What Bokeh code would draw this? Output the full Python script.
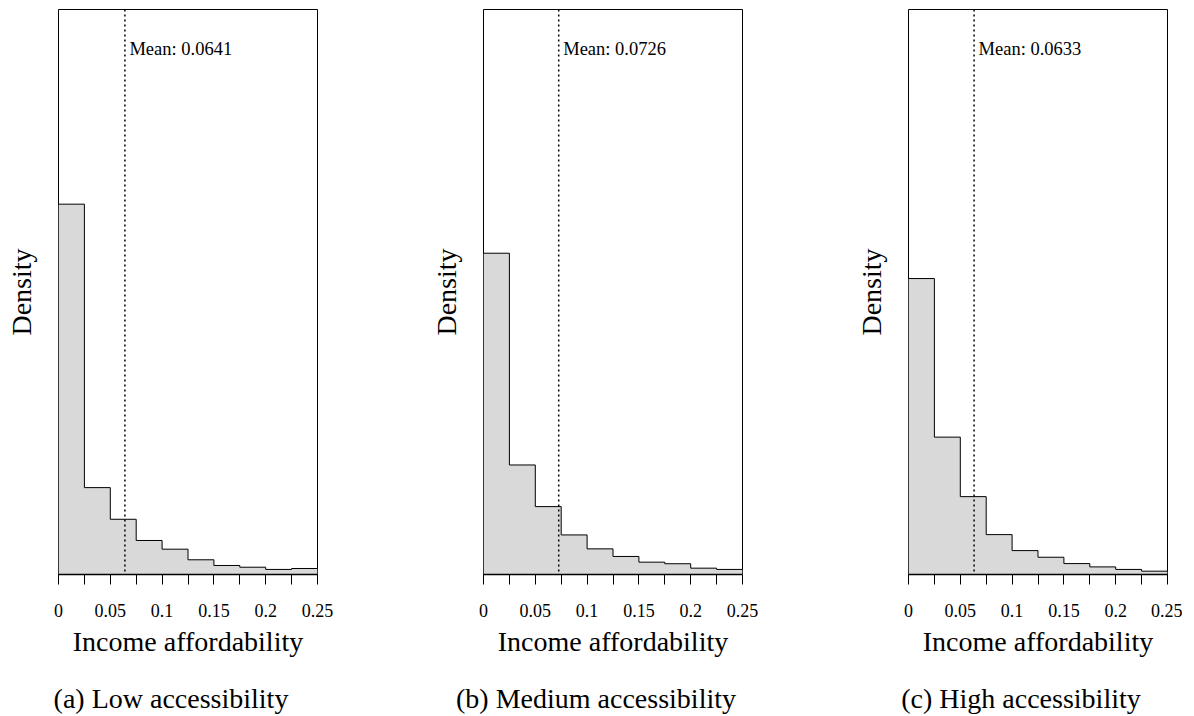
from bokeh.plotting import figure
from bokeh.layouts import row
from bokeh.models import Range1d, FixedTicker, Span, Label, LinearAxis
from bokeh.embed import file_html
from bokeh.resources import INLINE

# ---- data ----
bin_edges = [0.0, 0.025, 0.05, 0.075, 0.1, 0.125, 0.15, 0.175, 0.2, 0.225, 0.25]
low_density = [23.4, 5.49, 3.49, 2.15, 1.60, 0.93, 0.57, 0.46, 0.32, 0.38]
medium_density = [20.3, 6.92, 4.29, 2.50, 1.62, 1.14, 0.78, 0.68, 0.40, 0.32]
high_density = [18.7, 8.68, 4.92, 2.52, 1.51, 1.09, 0.69, 0.48, 0.32, 0.21]
means = [0.0641, 0.0726, 0.0633]
captions = ["(a) Low accessibility", "(b) Medium accessibility", "(c) High accessibility"]
major_ticks = [0, 0.05, 0.1, 0.15, 0.2, 0.25]
tick_labels = ["0", "0.05", "0.1", "0.15", "0.2", "0.25"]
minor_ticks = [0.025, 0.075, 0.125, 0.175, 0.225]
x_label = "Income affordability"
y_label = "Density"
Y_MAX = 35.7

SERIF = "Liberation Serif"
FIG_H = 716
FRAME_H = 565
FRAME_W = 259
TOP = 9


def make_panel(density, mean, caption, left_border, right_border):
    width = left_border + FRAME_W + right_border
    x0, x1 = bin_edges[0], bin_edges[-1]
    p = figure(width=width, height=FIG_H, output_backend="svg", toolbar_location=None,
               x_range=Range1d(x0, x1), y_range=Range1d(0, Y_MAX),
               min_border_left=left_border, min_border_right=right_border,
               min_border_top=TOP, min_border_bottom=FIG_H - TOP - FRAME_H,
               title_location=None)
    p.background_fill_color = "white"
    p.border_fill_color = "white"
    p.outline_line_color = "black"
    p.outline_line_width = 1
    p.xgrid.visible = False
    p.ygrid.visible = False

    # histogram: filled area + step outline (no internal dividers)
    step_y = list(density) + [density[-1]]
    p.varea_step(x=bin_edges, y1=[0] * len(bin_edges), y2=step_y, step_mode="after",
                 fill_color="#d9d9d9")
    p.step(x=bin_edges, y=step_y, mode="after", line_color="black", line_width=1)

    p.add_layout(Span(location=mean, dimension="height", line_color="black",
                      line_width=1.5, line_dash="2 3"))
    p.add_layout(Label(x=mean, y=Y_MAX, x_offset=4.5, y_offset=-39,
                       text=f"Mean: {mean:.4f}", text_font=SERIF,
                       text_font_size="18.5px", text_color="black",
                       text_baseline="alphabetic", text_align="left"))

    xa = p.xaxis[0]
    xa.ticker = FixedTicker(ticks=major_ticks, minor_ticks=minor_ticks)
    xa.major_label_overrides = {t: l for t, l in zip(major_ticks, tick_labels)}
    xa.axis_line_color = "black"
    xa.axis_line_width = 1.5
    xa.major_tick_line_color = "black"
    xa.minor_tick_line_color = "black"
    xa.major_tick_in = 0
    xa.minor_tick_in = 0
    xa.major_tick_out = 10
    xa.minor_tick_out = 10
    xa.major_label_standoff = 19
    xa.major_label_text_font = SERIF
    xa.major_label_text_font_size = "18px"
    xa.major_label_text_color = "black"
    xa.axis_label = x_label
    xa.axis_label_text_font = SERIF
    xa.axis_label_text_font_size = "28px"
    xa.axis_label_text_font_style = "normal"
    xa.axis_label_text_color = "black"
    xa.axis_label_standoff = 6

    # sub-figure caption: a bare axis below, its single label sits 17px left of centre
    cap_x = (x0 + x1) / 2 - 17 * (x1 - x0) / FRAME_W
    cap_axis = LinearAxis(ticker=FixedTicker(ticks=[cap_x], minor_ticks=[]),
                          major_label_overrides={cap_x: caption},
                          axis_line_color=None, major_tick_line_color=None,
                          minor_tick_line_color=None, major_tick_out=0, major_tick_in=0,
                          minor_tick_out=0, minor_tick_in=0,
                          major_label_standoff=23, major_label_text_font=SERIF,
                          major_label_text_font_size="28px",
                          major_label_text_color="black")
    p.add_layout(cap_axis, "below")

    ya = p.yaxis[0]
    ya.ticker = FixedTicker(ticks=[])
    ya.axis_line_color = None
    ya.major_tick_line_color = None
    ya.minor_tick_line_color = None
    ya.major_tick_out = 0
    ya.minor_tick_out = 0
    ya.major_label_standoff = 0
    ya.axis_label = y_label
    ya.axis_label_text_font = SERIF
    ya.axis_label_text_font_size = "28px"
    ya.axis_label_text_font_style = "normal"
    ya.axis_label_text_color = "black"
    ya.axis_label_standoff = 22
    return p


p1 = make_panel(low_density, means[0], captions[0], 58, 106)
p2 = make_panel(medium_density, means[1], captions[1], 60, 106)
p3 = make_panel(high_density, means[2], captions[2], 60, 15)

layout = row(p1, p2, p3)
open("out.html", "w").write(file_html(layout, INLINE))
